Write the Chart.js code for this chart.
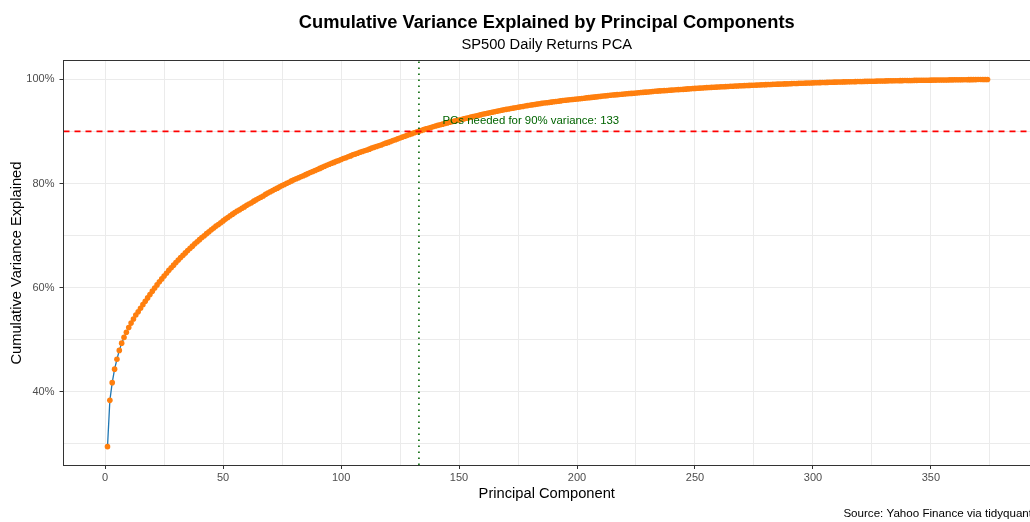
<!DOCTYPE html>
<html>
<head>
<meta charset="utf-8">
<script src="https://cdn.jsdelivr.net/npm/chart.js@4.4.1/dist/chart.umd.min.js"></script>
<style>
  html, body { margin: 0; padding: 0; background: #fff; }
  #wrap { width: 1030px; height: 522px; }
</style>
</head>
<body>
<div id="wrap"><canvas id="pcaChart" width="1030" height="522"></canvas></div>
<script>
// cumulative variance explained (%), PC1 .. PC374
const cumVar = [
  29.4, 38.3, 41.7, 44.3, 46.2, 47.9, 49.3, 50.4, 51.4, 52.3,
  53.15, 53.95, 54.7, 55.35, 56.0, 56.7, 57.35, 58.0, 58.65, 59.3,
  59.9, 60.5, 61.1, 61.65, 62.2, 62.75, 63.3, 63.8, 64.3, 64.8,
  65.3, 65.75, 66.2, 66.65, 67.1, 67.55, 67.95, 68.4, 68.8, 69.2,
  69.6, 69.95, 70.35, 70.7, 71.1, 71.45, 71.8, 72.1, 72.45, 72.8,
  73.15, 73.45, 73.8, 74.1, 74.4, 74.7, 74.95, 75.25, 75.5, 75.8,
  76.05, 76.3, 76.6, 76.85, 77.1, 77.35, 77.6, 77.9, 78.15, 78.4,
  78.65, 78.9, 79.1, 79.35, 79.6, 79.8, 80.05, 80.25, 80.5, 80.7,
  80.9, 81.1, 81.3, 81.5, 81.7, 81.9, 82.1, 82.3, 82.5, 82.7,
  82.9, 83.1, 83.3, 83.5, 83.7, 83.9, 84.05, 84.25, 84.4, 84.6,
  84.8, 84.95, 85.15, 85.3, 85.5, 85.65, 85.8, 86.0, 86.15, 86.3,
  86.45, 86.6, 86.8, 86.95, 87.1, 87.25, 87.4, 87.6, 87.75, 87.9,
  88.07, 88.24, 88.41, 88.58, 88.75, 88.92, 89.08, 89.25, 89.42, 89.58,
  89.74, 89.9, 90.05, 90.2, 90.35, 90.49, 90.63, 90.77, 90.91, 91.05,
  91.17, 91.29, 91.41, 91.53, 91.65, 91.76, 91.87, 91.98, 92.09, 92.2,
  92.31, 92.42, 92.53, 92.64, 92.75, 92.86, 92.97, 93.08, 93.19, 93.3,
  93.4, 93.5, 93.6, 93.7, 93.8, 93.89, 93.98, 94.07, 94.16, 94.25,
  94.33, 94.41, 94.49, 94.57, 94.65, 94.73, 94.81, 94.89, 94.97, 95.05,
  95.12, 95.19, 95.26, 95.33, 95.4, 95.46, 95.52, 95.58, 95.64, 95.7,
  95.76, 95.82, 95.88, 95.94, 96.0, 96.05, 96.1, 96.15, 96.2, 96.25,
  96.3, 96.35, 96.4, 96.45, 96.5, 96.55, 96.6, 96.65, 96.7, 96.75,
  96.8, 96.85, 96.9, 96.95, 97.0, 97.04, 97.08, 97.12, 97.16, 97.2,
  97.24, 97.28, 97.32, 97.36, 97.4, 97.44, 97.48, 97.52, 97.56, 97.6,
  97.64, 97.68, 97.72, 97.76, 97.8, 97.83, 97.86, 97.89, 97.92, 97.95,
  97.98, 98.01, 98.04, 98.07, 98.1, 98.14, 98.18, 98.21, 98.25, 98.28,
  98.31, 98.34, 98.37, 98.4, 98.43, 98.45, 98.48, 98.5, 98.53, 98.56,
  98.58, 98.61, 98.63, 98.66, 98.68, 98.7, 98.73, 98.75, 98.78, 98.8,
  98.82, 98.84, 98.86, 98.88, 98.9, 98.92, 98.94, 98.96, 98.98, 99.0,
  99.02, 99.04, 99.06, 99.08, 99.1, 99.11, 99.13, 99.15, 99.16, 99.18,
  99.2, 99.22, 99.23, 99.25, 99.27, 99.28, 99.3, 99.31, 99.33, 99.35,
  99.36, 99.38, 99.39, 99.41, 99.42, 99.43, 99.45, 99.46, 99.48, 99.49,
  99.5, 99.51, 99.53, 99.54, 99.55, 99.56, 99.57, 99.58, 99.6, 99.61,
  99.62, 99.63, 99.64, 99.65, 99.66, 99.67, 99.68, 99.69, 99.7, 99.71,
  99.72, 99.73, 99.74, 99.75, 99.76, 99.76, 99.77, 99.78, 99.79, 99.8,
  99.81, 99.81, 99.82, 99.83, 99.84, 99.84, 99.85, 99.86, 99.86, 99.87,
  99.88, 99.88, 99.89, 99.89, 99.9, 99.9, 99.91, 99.92, 99.92, 99.93,
  99.93, 99.94, 99.94, 99.95, 99.95, 99.96, 99.96, 99.97, 99.97, 99.98,
  99.98, 99.99, 99.99, 100.0
];
const components = cumVar.map((v, i) => i + 1);

const xGrid = [0, 25, 50, 75, 100, 125, 150, 175, 200, 225, 250, 275, 300, 325, 350, 375];
const xLabels = [0, 50, 100, 150, 200, 250, 300, 350];
const yGrid = [30, 40, 50, 60, 70, 80, 90, 100];
const yLabels = [40, 60, 80, 100];

const threshold = 90;
const pcsNeeded = 133;
const noteText = 'PCs needed for 90% variance: ' + pcsNeeded;
const caption = 'Source: Yahoo Finance via tidyquant';

const FONT = "'Liberation Sans', Arial, sans-serif";
Chart.defaults.font.family = FONT;
Chart.defaults.color = '#000';

// reference lines, note, panel border and caption
const extras = {
  id: 'extras',
  afterDatasetsDraw(chart) {
    const {ctx, chartArea: a, scales: {x, y}} = chart;
    ctx.save();
    ctx.beginPath();
    ctx.rect(a.left, a.top, a.right - a.left, a.bottom - a.top);
    ctx.clip();

    const yy = y.getPixelForValue(threshold);
    ctx.strokeStyle = '#ff0000';
    ctx.lineWidth = 1.8;
    ctx.setLineDash([6, 5]);
    ctx.beginPath();
    ctx.moveTo(a.left, yy);
    ctx.lineTo(a.right, yy);
    ctx.stroke();

    const xx = x.getPixelForValue(pcsNeeded);
    ctx.strokeStyle = '#006400';
    ctx.lineWidth = 1.6;
    ctx.setLineDash([1.6, 4.4]);
    ctx.beginPath();
    ctx.moveTo(xx, a.bottom);
    ctx.lineTo(xx, a.top);
    ctx.stroke();
    ctx.setLineDash([]);

    ctx.fillStyle = '#006400';
    ctx.font = '11.4px ' + FONT;
    ctx.textAlign = 'left';
    ctx.textBaseline = 'middle';
    ctx.fillText(noteText, x.getPixelForValue(pcsNeeded + 10), y.getPixelForValue(threshold + 2));
    ctx.restore();
  },
  afterDraw(chart) {
    const {ctx, chartArea: a} = chart;
    ctx.save();
    ctx.strokeStyle = '#333333';
    ctx.lineWidth = 1;
    ctx.strokeRect(Math.round(a.left) - 0.5, Math.round(a.top) - 0.5,
      Math.round(a.right - a.left) + 1, Math.round(a.bottom - a.top) + 1);
    ctx.fillStyle = '#000';
    ctx.font = '11.6px ' + FONT;
    ctx.textAlign = 'right';
    ctx.textBaseline = 'alphabetic';
    ctx.fillText(caption, 1032, 517.3);
    ctx.restore();
  }
};

new Chart(document.getElementById('pcaChart'), {
  type: 'scatter',
  data: {
    datasets: [{
      data: components.map((c, i) => ({x: c, y: cumVar[i]})),
      showLine: true,
      borderColor: '#1f77b4',
      borderWidth: 1.3,
      pointBackgroundColor: '#ff7f0e',
      pointBorderWidth: 0,
      pointRadius: 2.8,
      pointHoverRadius: 2.8,
      tension: 0
    }]
  },
  options: {
    responsive: false,
    animation: false,
    devicePixelRatio: 1,
    layout: { padding: 0, autoPadding: false },
    scales: {
      x: {
        type: 'linear',
        min: -17.65,
        max: 392,
        afterBuildTicks: s => { s.ticks = xGrid.map(v => ({value: v})); },
        afterFit: s => { s.height = 57; },
        ticks: {
          autoSkip: false,
          maxRotation: 0,
          padding: 2,
          color: '#4d4d4d',
          font: { size: 11 },
          callback: v => xLabels.includes(v) ? String(v) : ''
        },
        grid: {
          color: '#ebebeb',
          lineWidth: 1,
          tickLength: 4,
          tickColor: c => (c.tick && xLabels.includes(c.tick.value)) ? '#333333' : 'rgba(0,0,0,0)'
        },
        border: { display: false },
        title: {
          display: true,
          text: 'Principal Component',
          color: '#000',
          font: { size: 14.7 },
          padding: { top: 0, bottom: 19 }
        }
      },
      y: {
        type: 'linear',
        min: 25.87,
        max: 103.53,
        afterBuildTicks: s => { s.ticks = yGrid.map(v => ({value: v})); },
        afterFit: s => { s.width = 63.5; },
        ticks: {
          autoSkip: false,
          padding: 5,
          color: '#4d4d4d',
          font: { size: 11 },
          callback: v => yLabels.includes(v) ? v + '%' : ''
        },
        grid: {
          color: '#ebebeb',
          lineWidth: 1,
          tickLength: 4,
          tickColor: c => (c.tick && yLabels.includes(c.tick.value)) ? '#333333' : 'rgba(0,0,0,0)'
        },
        border: { display: false },
        title: {
          display: true,
          text: 'Cumulative Variance Explained',
          color: '#000',
          font: { size: 14.7 },
          padding: { top: 8.2, bottom: 0 }
        }
      }
    },
    plugins: {
      legend: { display: false },
      tooltip: { enabled: false },
      title: {
        display: true,
        fullSize: false,
        text: 'Cumulative Variance Explained by Principal Components',
        color: '#000',
        font: { size: 18.3, weight: 'bold' },
        padding: { top: 11.7, bottom: 0 }
      },
      subtitle: {
        display: true,
        fullSize: false,
        text: 'SP500 Daily Returns PCA',
        color: '#000',
        font: { size: 14.7, weight: 'normal' },
        padding: { top: 2.5, bottom: 7.3 }
      }
    }
  },
  plugins: [extras]
});
</script>
</body>
</html>
